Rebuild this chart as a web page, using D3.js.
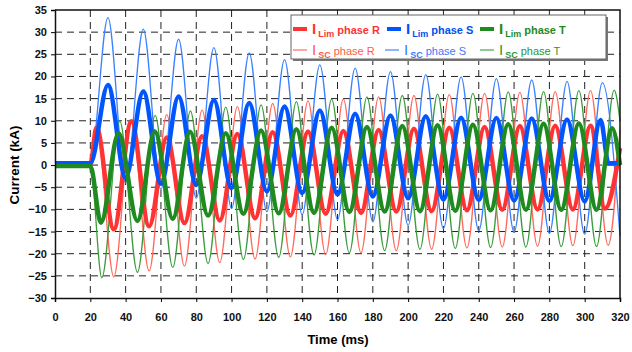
<!DOCTYPE html>
<html>
<head>
<meta charset="utf-8">
<script src="https://cdn.jsdelivr.net/npm/d3@7"></script>
<style>
  body { margin: 0; background: #fff; }
  svg { font-family: "Liberation Sans", Arial, sans-serif; }
</style>
</head>
<body>
<svg id="chart" width="632" height="352"></svg>
<script>
// time ticks (ms) and current ticks (kA)
const timeTicks = d3.range(0, 321, 20);
const currentTicks = d3.range(-30, 36, 5);

// extremum points [time ms, current kA]
const iscR = [[0,0.1],[20,0.1],[23.5,8.6],[33.3,-25.2],[43.3,10.1],[53.3,-23.9],[63.3,11.4],[73.3,-22.8],[83.3,12.4],[93.3,-22.0],[103.3,13.2],[113.3,-21.2],[123.3,13.9],[133.3,-20.7],[143.3,14.5],[153.3,-20.2],[163.3,14.9],[173.3,-19.8],[183.3,15.4],[193.3,-19.3],[203.3,15.7],[213.3,-19.0],[223.3,15.9],[233.3,-18.7],[243.3,16.2],[253.3,-18.5],[263.3,16.4],[273.3,-18.3],[283.3,16.6],[293.3,-18.2],[303.3,16.8],[313.3,-18.1],[320,8]];
const iscS = [[0,0.4],[20,0.4],[30,33.3],[40,-4.0],[50,30.7],[60,-5.5],[70,28.4],[80,-7.5],[90,26.5],[100,-9.8],[110,25.3],[120,-10.5],[130,23.8],[140,-11.2],[150,22.6],[160,-12.3],[170,21.9],[180,-12.8],[190,21.1],[200,-13.6],[210,20.4],[220,-14.3],[230,19.9],[240,-14.8],[250,19.5],[260,-15.1],[270,19.2],[280,-15.4],[290,18.9],[300,-15.6],[310,18.6],[320,-16.0]];
const iscT = [[0,-0.2],[20,-0.2],[26.5,-25.4],[36.7,9.9],[46.7,-24.2],[56.7,11.2],[66.7,-23.1],[76.7,12.2],[86.7,-22.2],[96.7,13.1],[106.7,-21.3],[116.7,13.6],[126.7,-20.8],[136.7,14.3],[146.7,-20.3],[156.7,14.9],[166.7,-19.8],[176.7,15.4],[186.7,-19.3],[196.7,15.7],[206.7,-19.0],[216.7,16.0],[226.7,-18.8],[236.7,16.2],[246.7,-18.6],[256.7,16.5],[266.7,-18.5],[276.7,16.6],[286.7,-18.4],[296.7,16.8],[306.7,-18.4],[316.7,16.9],[320,10]];
const limR = [[0,0.1],[20,0.1],[23.5,8.5],[33.3,-14.5],[43.3,9.9],[53.3,-13.8],[63.3,6.2],[73.3,-13.1],[83.3,6.5],[93.3,-12.5],[103.3,7.0],[113.3,-12.0],[123.3,7.4],[133.3,-11.4],[143.3,7.6],[153.3,-11.0],[163.3,7.7],[173.3,-10.8],[183.3,7.9],[193.3,-10.5],[203.3,8.2],[213.3,-10.4],[223.3,8.4],[233.3,-10.2],[243.3,8.6],[253.3,-10.1],[263.3,8.8],[273.3,-10.0],[283.3,8.9],[293.3,-10.0],[303.3,8.9],[311.5,-9.8],[320,3.8]];
const limS = [[0,0.4],[20,0.4],[30,18.1],[40,-2.8],[50,16.6],[60,-4.2],[70,15.5],[80,-4.5],[90,14.7],[100,-5.2],[110,14.0],[120,-5.9],[130,13.2],[140,-6.3],[150,12.3],[160,-6.6],[170,11.6],[180,-7.1],[190,11.2],[200,-7.5],[210,11.0],[220,-7.8],[230,10.7],[240,-7.9],[250,10.6],[260,-8.0],[270,10.5],[280,-8.1],[290,10.3],[300,-8.2],[309,10.2],[313.5,0.4],[320,0.4]];
const limT = [[0,-0.2],[20,-0.2],[26,-13.0],[36,7.2],[46.7,-12.6],[56.5,7.6],[66.7,-12.1],[76.5,7.5],[86.7,-11.4],[96.7,7.2],[106.7,-11.0],[116.7,7.8],[126.7,-10.9],[136.7,8.1],[146.7,-10.8],[156.7,8.4],[166.7,-10.6],[176.7,8.6],[186.7,-10.5],[196.7,8.8],[206.7,-10.4],[216.7,9.0],[226.7,-10.3],[236.7,9.1],[246.7,-10.2],[256.7,9.2],[266.7,-10.1],[276.7,9.3],[286.7,-10.1],[296.7,9.4],[306.7,-10.1],[315.5,8.3],[320,0]];

const series = [
  {data: iscR, color: "#ff6a5c", width: 1.3},
  {data: iscS, color: "#3a80ff", width: 1.3},
  {data: iscT, color: "#3c9c3c", width: 1.3},
  {data: limR, color: "#ff3333", width: 4.5},
  {data: limS, color: "#0055ff", width: 4.5},
  {data: limT, color: "#1f8a1f", width: 4.5}
];

var svg = d3.select("#chart");
var plotL = 55, plotR = 620, plotT = 10, plotB = 298;

var x = d3.scaleLinear().domain([0, 320]).range([plotL, plotR]);
var y = d3.scaleLinear().domain([-30, 35]).range([plotB, plotT]);

// dashed grid
svg.append("g")
  .selectAll("line")
  .data(currentTicks.filter(d => d > -30 && d < 35))
  .enter().append("line")
  .attr("x1", plotL).attr("x2", plotR)
  .attr("y1", d => y(d)).attr("y2", d => y(d))
  .attr("stroke", "#222").attr("stroke-dasharray", "7,5");
svg.append("g")
  .selectAll("line")
  .data(timeTicks.filter(d => d > 0 && d < 320))
  .enter().append("line")
  .attr("y1", plotT).attr("y2", plotB)
  .attr("x1", d => x(d)).attr("x2", d => x(d))
  .attr("stroke", "#222").attr("stroke-dasharray", "7,5");

// curves
var line = d3.line()
  .x(d => x(d[0]))
  .y(d => y(d[1]))
  .curve(d3.curveMonotoneX);

svg.append("g")
  .selectAll("path")
  .data(series)
  .enter().append("path")
  .attr("d", d => line(d.data))
  .attr("fill", "none")
  .attr("stroke", d => d.color)
  .attr("stroke-width", d => d.width)
  .attr("stroke-linejoin", "round");

// frame
svg.append("path")
  .attr("d", "M" + plotL + "," + plotT + "H" + plotR + "V" + plotB)
  .attr("fill", "none").attr("stroke", "#111").attr("stroke-width", 1.5);

// axes
var yAxis = d3.axisLeft(y).tickValues(currentTicks).tickSize(4).tickPadding(4);
var xAxis = d3.axisBottom(x).tickValues(timeTicks).tickSize(4).tickPadding(11);

svg.append("g")
  .attr("transform", "translate(" + plotL + ",0)")
  .call(yAxis)
  .call(g => g.select(".domain").attr("stroke", "#111").attr("stroke-width", 1.5))
  .call(g => g.selectAll("text").attr("font-size", 11).attr("font-weight", "bold").attr("fill", "#111")
    .attr("font-family", "Liberation Sans, Arial, sans-serif"));

svg.append("g")
  .attr("transform", "translate(0," + plotB + ")")
  .call(xAxis)
  .call(g => g.select(".domain").attr("stroke", "#111").attr("stroke-width", 1.5))
  .call(g => g.selectAll("text").attr("font-size", 11).attr("font-weight", "bold").attr("fill", "#111")
    .attr("font-family", "Liberation Sans, Arial, sans-serif"));

svg.append("text")
  .attr("x", 338).attr("y", 344)
  .attr("text-anchor", "middle")
  .attr("font-size", 13).attr("font-weight", "bold")
  .text("Time (ms)");
svg.append("text")
  .attr("transform", "translate(19,165) rotate(-90)")
  .attr("text-anchor", "middle")
  .attr("font-size", 13.5).attr("font-weight", "bold")
  .text("Current (kA)");

// legend
var legendItems = [
  {sub: "Lim", phase: "phase R", color: "#ff3333", text: "#ff3333", width: 4, x: 293, y: 29, bold: true},
  {sub: "Lim", phase: "phase S", color: "#0055ff", text: "#0050f0", width: 4, x: 387, y: 29, bold: true},
  {sub: "Lim", phase: "phase T", color: "#1f8a1f", text: "#1f8a1f", width: 4, x: 480, y: 29, bold: true},
  {sub: "SC", phase: "phase R", color: "#ff8a80", text: "#ff5a4a", width: 1.5, x: 293, y: 50, bold: false},
  {sub: "SC", phase: "phase S", color: "#6a9cff", text: "#3a78ff", width: 1.5, x: 385, y: 50, bold: false},
  {sub: "SC", phase: "phase T", color: "#6cb86c", text: "#2f962f", width: 1.5, x: 480, y: 50, bold: false}
];

var legend = svg.append("g");
legend.append("rect")
  .attr("x", 293).attr("y", 17).attr("width", 315).attr("height", 44)
  .attr("fill", "#777");
legend.append("rect")
  .attr("x", 291).attr("y", 15).attr("width", 315).attr("height", 44)
  .attr("fill", "#fff").attr("stroke", "#666").attr("stroke-width", 1);

var li = legend.selectAll("g.item")
  .data(legendItems)
  .enter().append("g").attr("class", "item");

li.append("line")
  .attr("x1", d => d.x).attr("x2", d => d.x + 14)
  .attr("y1", d => d.y).attr("y2", d => d.y)
  .attr("stroke", d => d.color).attr("stroke-width", d => d.width);

var lt = li.append("text")
  .attr("x", d => d.x + 19)
  .attr("y", d => d.y + 5)
  .attr("fill", d => d.text);
lt.append("tspan")
  .attr("font-size", 15)
  .attr("font-weight", d => d.bold ? "bold" : "normal")
  .text("I");
lt.append("tspan")
  .attr("dx", 2).attr("dy", 3)
  .attr("font-size", 9).attr("font-weight", "bold")
  .text(d => d.sub);
lt.append("tspan")
  .attr("dx", 3).attr("dy", -3)
  .attr("font-size", 11)
  .attr("font-weight", d => d.bold ? "bold" : "normal")
  .text(d => d.phase);
</script>
</body>
</html>
